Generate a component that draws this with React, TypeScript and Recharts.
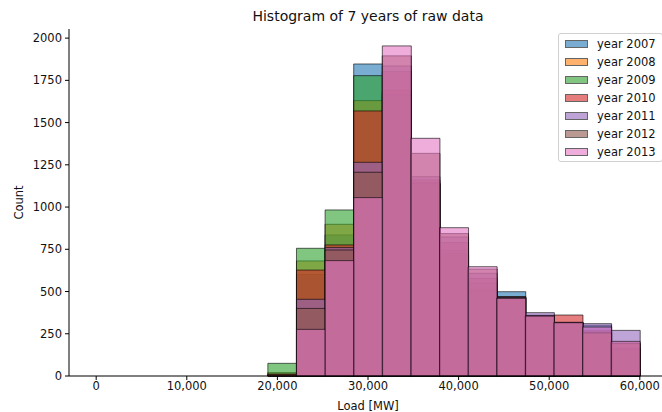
import React from 'react';
import { ComposedChart, Bar, XAxis, YAxis, Legend } from 'recharts';

// histogram bins (19 equal bins from 0 to 60,000 MW)
const BIN_START = [
  0, 3158, 6316, 9474, 12632, 15789, 18947, 22105, 25263, 28421,
  31579, 34737, 37895, 41053, 44211, 47368, 50526, 53684, 56842,
];
const BIN_WIDTH = 3158;

const COUNTS_2007 = [0, 0, 0, 0, 0, 0, 5, 600, 835, 1847, 1677, 1145, 714, 499, 499, 358, 316, 300, 165];
const COUNTS_2008 = [0, 0, 0, 0, 0, 0, 20, 681, 898, 1630, 1690, 1140, 725, 510, 470, 356, 316, 270, 160];
const COUNTS_2009 = [0, 0, 0, 0, 0, 0, 75, 756, 983, 1778, 1664, 1137, 744, 549, 465, 355, 315, 265, 155];
const COUNTS_2010 = [0, 0, 0, 0, 0, 0, 12, 627, 776, 1569, 1802, 1160, 790, 578, 465, 360, 361, 258, 190];
const COUNTS_2011 = [0, 0, 0, 0, 0, 0, 3, 454, 760, 1265, 1835, 1180, 823, 608, 468, 375, 318, 310, 270];
const COUNTS_2012 = [0, 0, 0, 0, 0, 0, 8, 400, 746, 1206, 1895, 1318, 843, 633, 462, 355, 315, 255, 195];
const COUNTS_2013 = [0, 0, 0, 0, 0, 0, 0, 276, 683, 1056, 1954, 1407, 878, 647, 460, 355, 316, 290, 205];

const YEARS = ['2007', '2008', '2009', '2010', '2011', '2012', '2013'];
const COUNTS = [COUNTS_2007, COUNTS_2008, COUNTS_2009, COUNTS_2010, COUNTS_2011, COUNTS_2012, COUNTS_2013];
const COLORS = ['#1f77b4', '#ff7f0e', '#2ca02c', '#d62728', '#9467bd', '#8c564b', '#e377c2'];

const X_DOMAIN = [-3000, 63000];
const X_TICKS = [0, 10000, 20000, 30000, 40000, 50000, 60000];
const Y_MAX = 2054;
const Y_TICKS = [0, 250, 500, 750, 1000, 1250, 1500, 1750, 2000];

const data = BIN_START.map((start, i) => {
  const row: Record<string, number> = { center: start + BIN_WIDTH / 2 };
  YEARS.forEach((y, k) => {
    row['y' + y] = COUNTS[k][i];
  });
  return row;
});

const FONT = 'DejaVu Sans, sans-serif';
const FS = 11.5;

const LegendBox = () => (
  <div
    style={{
      border: '1px solid #d0d0d0',
      borderRadius: 3,
      background: 'rgba(255,255,255,0.8)',
      padding: '1px 0 0 6px',
      width: 97,
      fontFamily: FONT,
      fontSize: FS,
      color: '#111',
      whiteSpace: 'nowrap',
    }}
  >
    {YEARS.map((y, k) => (
      <div key={y} style={{ display: 'flex', alignItems: 'center', height: 18 }}>
        <span
          style={{
            display: 'inline-block',
            width: 23,
            height: 8,
            boxSizing: 'border-box',
            background: COLORS[k],
            opacity: 0.6,
            border: '1px solid #000',
            marginRight: 9,
          }}
        />
        <span>year {y}</span>
      </div>
    ))}
  </div>
);

export default function App() {
  return (
    <div style={{ position: 'absolute', left: 0, top: 0, width: 662, height: 412, background: '#fff', fontFamily: FONT }}>
      <div
        style={{
          position: 'absolute',
          top: 8,
          left: 69,
          width: 598,
          textAlign: 'center',
          fontSize: 14,
          color: '#111',
        }}
      >
        Histogram of 7 years of raw data
      </div>
      <ComposedChart
        width={662}
        height={412}
        data={data}
        margin={{ top: 29, right: -5, bottom: 0, left: 0 }}
        barCategoryGap={0}
        barGap={0}
      >
        <XAxis
          xAxisId="x0"
          type="number"
          dataKey="center"
          domain={X_DOMAIN}
          ticks={X_TICKS}
          tickFormatter={(v: number) => v.toLocaleString('en-US')}
          height={36}
          tickSize={4}
          tickMargin={2}
          axisLine={{ stroke: '#000' }}
          tickLine={{ stroke: '#000' }}
          tick={{ fill: '#111', fontSize: FS, fontFamily: FONT }}
          label={{ value: 'Load [MW]', position: 'insideBottom', offset: 2, fill: '#111', fontSize: FS, fontFamily: FONT }}
        />
        <XAxis
          xAxisId="x1"
          orientation="top"
          type="number"
          dataKey="center"
          domain={X_DOMAIN}
          height={0}
          tick={false}
          tickLine={false}
          axisLine={{ stroke: '#000' }}
        />
        {['x2', 'x3', 'x4', 'x5', 'x6'].map((id) => (
          <XAxis key={id} xAxisId={id} type="number" dataKey="center" domain={X_DOMAIN} hide />
        ))}
        <YAxis
          domain={[0, Y_MAX]}
          ticks={Y_TICKS}
          width={69}
          tickSize={4}
          tickMargin={3}
          axisLine={{ stroke: '#000' }}
          tickLine={{ stroke: '#000' }}
          tick={{ fill: '#111', fontSize: FS, fontFamily: FONT }}
          label={{
            value: 'Count',
            angle: -90,
            position: 'insideLeft',
            offset: 19,
            fill: '#111',
            fontSize: FS,
            fontFamily: FONT,
            style: { textAnchor: 'middle' },
          }}
        />
        {YEARS.map((y, k) => (
          <Bar
            key={y}
            xAxisId={'x' + k}
            dataKey={'y' + y}
            name={'year ' + y}
            fill={COLORS[k]}
            fillOpacity={0.6}
            stroke="#000"
            strokeOpacity={0.6}
            strokeWidth={1}
            isAnimationActive={false}
          />
        ))}
        <Legend
          layout="horizontal"
          verticalAlign="middle"
          align="center"
          content={() => <LegendBox />}
          wrapperStyle={{ top: 33, left: 558, width: 104 }}
        />
      </ComposedChart>
    </div>
  );
}
